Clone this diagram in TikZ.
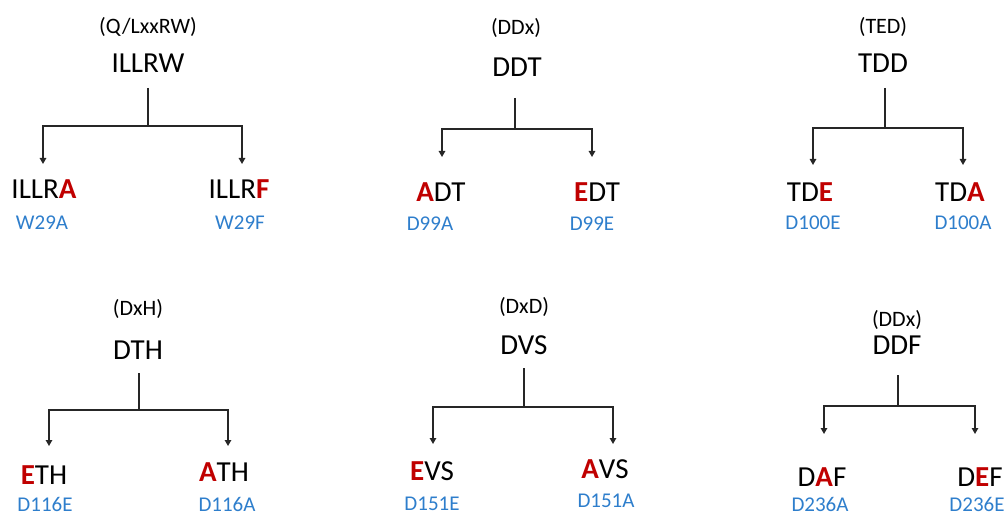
\documentclass[tikz,border=0pt]{standalone}
\usepackage{fontspec}
\setmainfont{Carlito}
\usetikzlibrary{arrows.meta}
\definecolor{mutred}{RGB}{192,0,0}
\definecolor{idblue}{RGB}{46,126,204}
\tikzset{
  mainlbl/.style={inner sep=0pt, font=\fontsize{29}{30}\selectfont, text=black},
  grouplbl/.style={inner sep=0pt, font=\fontsize{22}{24}\selectfont, text=black},
  idlbl/.style={inner sep=0pt, font=\fontsize{21}{23}\selectfont, text=idblue},
  branch/.style={line width=1.3pt, draw=black!85},
  fork/.style={branch, {Triangle[length=6pt,width=6.5pt]}-{Triangle[length=6pt,width=6.5pt]}},
}
\newcommand{\mut}[1]{\textcolor{mutred}{\textbf{#1}}}
\begin{document}
\begin{tikzpicture}[x=1pt,y=-1pt]
\useasboundingbox (0,0) rectangle (1005,516);
% ---------- Tree 1 ----------
\node[grouplbl] (g1) at (148,27) {(Q/LxxRW)};
\node[mainlbl] (p1) at (148,63) {ILLRW};
\coordinate (s1) at (148,88);
\coordinate (j1) at (148,126);
\coordinate (a1) at (43,164);
\coordinate (b1) at (242,164);
\draw[branch] (s1) -- (j1);
\draw[fork] (a1) |- (j1) -| (b1);
\node[mainlbl] (c1a) at (44,189) {ILLR\mut{A}};
\node[idlbl] (i1a) at (42,223) {W29A};
\node[mainlbl] (c1b) at (239,189) {ILLR\mut{F}};
\node[idlbl] (i1b) at (240,223) {W29F};
% ---------- Tree 2 ----------
\node[grouplbl] (g2) at (516,28) {(DDx)};
\node[mainlbl] (p2) at (517,67) {DDT};
\coordinate (s2) at (515,98);
\coordinate (j2) at (515,129);
\coordinate (a2) at (442,157);
\coordinate (b2) at (592,157);
\draw[branch] (s2) -- (j2);
\draw[fork] (a2) |- (j2) -| (b2);
\node[mainlbl] (c2a) at (441,192) {\mut{A}DT};
\node[idlbl] (i2a) at (430,224) {D99A};
\node[mainlbl] (c2b) at (597,192) {\mut{E}DT};
\node[idlbl] (i2b) at (592,224) {D99E};
% ---------- Tree 3 ----------
\node[grouplbl] (g3) at (883,27) {(TED)};
\node[mainlbl] (p3) at (883,63) {TDD};
\coordinate (s3) at (885,88);
\coordinate (j3) at (885,128);
\coordinate (a3) at (813,165);
\coordinate (b3) at (963,165);
\draw[branch] (s3) -- (j3);
\draw[fork] (a3) |- (j3) -| (b3);
\node[mainlbl] (c3a) at (810,192) {TD\mut{E}};
\node[idlbl] (i3a) at (813,223) {D100E};
\node[mainlbl] (c3b) at (960,192) {TD\mut{A}};
\node[idlbl] (i3b) at (963,223) {D100A};
% ---------- Tree 4 ----------
\node[grouplbl] (g4) at (138,309) {(DxH)};
\node[mainlbl] (p4) at (138,350) {DTH};
\coordinate (s4) at (139,373);
\coordinate (j4) at (139,410);
\coordinate (a4) at (49,446);
\coordinate (b4) at (228,446);
\draw[branch] (s4) -- (j4);
\draw[fork] (a4) |- (j4) -| (b4);
\node[mainlbl] (c4a) at (44,475) {\mut{E}TH};
\node[idlbl] (i4a) at (45,504) {D116E};
\node[mainlbl] (c4b) at (224,472) {\mut{A}TH};
\node[idlbl] (i4b) at (227,504) {D116A};
% ---------- Tree 5 ----------
\node[grouplbl] (g5) at (524,307) {(DxD)};
\node[mainlbl] (p5) at (524,345) {DVS};
\coordinate (s5) at (524,368);
\coordinate (j5) at (524,407);
\coordinate (a5) at (433,444);
\coordinate (b5) at (613,444);
\draw[branch] (s5) -- (j5);
\draw[fork] (a5) |- (j5) -| (b5);
\node[mainlbl] (c5a) at (432,471) {\mut{E}VS};
\node[idlbl] (i5a) at (432,504) {D151E};
\node[mainlbl] (c5b) at (605,469) {\mut{A}VS};
\node[idlbl] (i5b) at (606,501) {D151A};
% ---------- Tree 6 ----------
\node[grouplbl] (g6) at (897,320) {(DDx)};
\node[mainlbl] (p6) at (897,345) {DDF};
\coordinate (s6) at (898,375);
\coordinate (j6) at (898,406);
\coordinate (a6) at (824,434);
\coordinate (b6) at (975,434);
\draw[branch] (s6) -- (j6);
\draw[fork] (a6) |- (j6) -| (b6);
\node[mainlbl] (c6a) at (822,477) {D\mut{A}F};
\node[idlbl] (i6a) at (820,504) {D236A};
\node[mainlbl] (c6b) at (980,477) {D\mut{E}F};
\node[idlbl] (i6b) at (977,504) {D236E};
\end{tikzpicture}
\end{document}
